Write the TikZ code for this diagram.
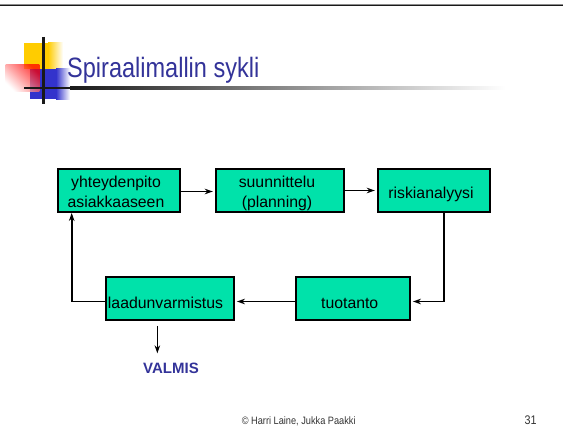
\documentclass[tikz,border=0pt]{standalone}
\usepackage{fontspec}
\setmainfont{Liberation Sans}
\newfontfamily\titlefont[FakeStretch=0.84]{Liberation Sans}
\newfontfamily\footfont[FakeStretch=0.86]{Liberation Sans}
\usetikzlibrary{arrows.meta,shadings}
\definecolor{boxgreen}{RGB}{0,226,170}
\definecolor{titleblue}{RGB}{51,51,153}
\definecolor{logoyellow}{RGB}{255,204,0}
\definecolor{logoblue}{RGB}{51,51,204}
\definecolor{logored}{RGB}{255,0,0}
\begin{document}
\begin{tikzpicture}[x=1pt,y=-1pt,
  box/.style={draw=black, line width=1.8pt, fill=boxgreen, minimum height=43pt, inner sep=0pt},
  boxtxt/.style={font=\fontsize{15.8}{19}\selectfont, anchor=base, inner sep=0pt},
  conn/.style={line width=1.6pt, -{Stealth[length=8pt,width=5.5pt,inset=2.5pt]}, shorten >=2pt},
]
\useasboundingbox (0,0) rectangle (563,430);
\fill[white] (0,0) rectangle (563,430);
% top rule
\draw[line width=0.8pt, black!45] (0,4.3) -- (563,4.3);
\draw[line width=1.6pt, black!90] (0,5.5) -- (563,5.5);
% logo
\fill[logoyellow] (24,43) rectangle (48,69.5);
\shade[left color=logoyellow, right color=white] (48,43) rectangle (63,69.5);
\fill[logoblue] (30,69) rectangle (56,99.3);
\shade[left color=logoblue, right color=white] (56,69) rectangle (70,99.3);
\shade[fill opacity=0.75, bottom color=white, top color=logored, shading angle=-45] (5.7,65) rectangle (39.3,91.7);
\fill[black!90] (24,87) rectangle (70,89.5);
\shade[left color=black!90, right color=white] (70,87) rectangle (505,89.5);
\draw[line width=2.5pt, black!90] (43.3,37) -- (43.3,104);
% title
\node[anchor=base west, inner sep=0pt, text=titleblue, font=\titlefont\fontsize{28}{30}\selectfont] (title) at (67,77.7) {Spiraalimallin sykli};
% boxes
\node[box, minimum width=122pt] (b1) at (119,190.5) {};
\node[box, minimum width=128.3pt] (b2) at (279.85,190.5) {};
\node[box, minimum width=112.3pt] (b3) at (433.85,190.5) {};
\node[box, minimum width=128.3pt] (b4) at (169.85,298.5) {};
\node[box, minimum width=114.3pt] (b5) at (352.85,298.5) {};
% box texts
\node[boxtxt] (t1a) at (116,188) {yhteydenpito};
\node[boxtxt] (t1b) at (116,208) {asiakkaaseen};
\node[boxtxt] (t2a) at (277,187.5) {suunnittelu};
\node[boxtxt] (t2b) at (277,208) {(planning)};
\node[boxtxt] (t3) at (431,199) {riskianalyysi};
\node[boxtxt] (t4) at (165.5,309) {laadunvarmistus};
\node[boxtxt] (t5) at (349.7,309) {tuotanto};
% VALMIS
\node[anchor=base, inner sep=0pt, text=titleblue, font=\bfseries\fontsize{15}{18}\selectfont] (v) at (171,373.5) {VALMIS};
% connectors
\draw[conn] ([yshift=-1pt]b1.east) -- ([yshift=-1pt]b2.west);
\draw[conn] (b2.east) -- (b3.west);
\draw[conn] ([xshift=10pt]b3.south) |- ([yshift=-3pt]b5.east);
\draw[conn] ([yshift=-3pt]b5.west) -- ([yshift=-3pt]b4.east);
\draw[conn, shorten >=0pt] ([yshift=-3pt]b4.west) -| ([xshift=-47.3pt]b1.south);
\coordinate (vstart) at ([xshift=-12.5pt,yshift=-5pt]b4.south);
\draw[conn, shorten >=9.5pt] (vstart) -- (vstart |- v.north);
% footer
\node[anchor=base west, inner sep=0pt, text=black!80, font=\footfont\fontsize{10.7}{12}\selectfont] (foot) at (241.7,425) {© Harri Laine, Jukka Paakki};
\node[anchor=base east, inner sep=0pt, text=black!80, font=\footfont\fontsize{12.5}{14}\selectfont] (pg) at (536.7,425) {31};
\end{tikzpicture}
\end{document}
